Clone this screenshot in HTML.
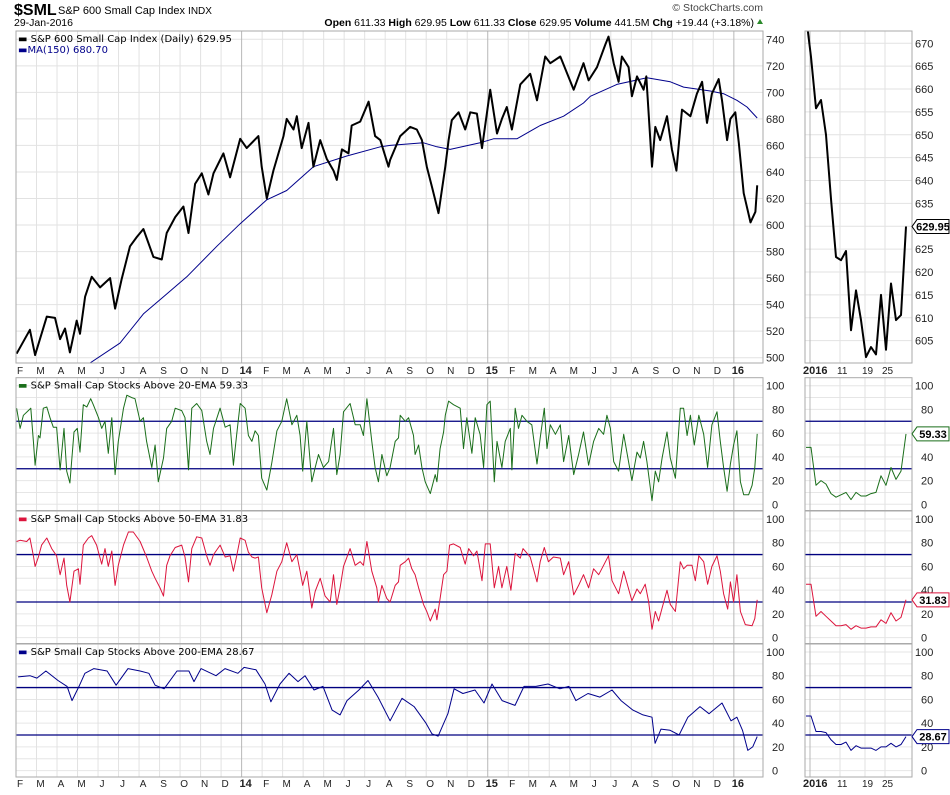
<!DOCTYPE html>
<html><head><meta charset="utf-8"><style>
html,body{margin:0;padding:0;background:#fff;}
svg{display:block;font-family:"Liberation Sans",sans-serif;}
</style></head><body>
<svg id="c" width="950" height="795" viewBox="0 0 950 795" xmlns="http://www.w3.org/2000/svg">
<text x="14" y="15" font-size="16" font-weight="bold">$SML</text>
<text x="58" y="14" font-size="11">S&amp;P 600 Small Cap Index <tspan font-size="10">INDX</tspan></text>
<text x="14" y="26" font-size="10.5">29-Jan-2016</text>
<text x="763" y="11" font-size="10.5" fill="#444" text-anchor="end">© StockCharts.com</text>
<text x="754" y="26" font-size="10.5" text-anchor="end"><tspan font-weight="bold">Open</tspan> 611.33 <tspan font-weight="bold">High</tspan> 629.95 <tspan font-weight="bold">Low</tspan> 611.33 <tspan font-weight="bold">Close</tspan> 629.95 <tspan font-weight="bold">Volume</tspan> 441.5M <tspan font-weight="bold">Chg</tspan> +19.44 (+3.18%)</text>
<polygon points="757,24 763,24 760,19" fill="#2a8a2a"/>
<g id="g"></g>
</svg>
<script>
const monthLabels=['F','M','A','M','J','J','A','S','O','N','D','14','F','M','A','M','J','J','A','S','O','N','D','15','F','M','A','M','J','J','A','S','O','N','D','16'];
const priceTicks=[500,520,540,560,580,600,620,640,660,680,700,720,740];
const janTicks=[605,610,615,620,625,630,635,640,645,650,655,660,665,670];
const pctTicks=[0,20,40,60,80,100];
const refLevels=[30,70];
const janLabels=[['2016',1,true],['11',7,false],['19',12,false],['25',16,false]];
const priceM=[0.03,0.68,0.93,1.5,1.9,2.15,2.39,2.63,2.96,3.12,3.37,3.69,4.1,4.59,4.83,5.15,5.56,5.89,6.21,6.7,7.11,7.35,7.76,8.16,8.41,8.73,9.06,9.38,9.63,9.95,10.11,10.44,10.93,11.25,11.82,11.98,12.23,12.55,13.04,13.2,13.53,13.69,13.93,14.26,14.5,14.83,15.15,15.48,15.64,15.89,16.21,16.37,16.78,17.19,17.51,17.76,18.16,18.24,18.73,19.22,19.54,19.79,20.03,20.28,20.6,20.93,21.09,21.25,21.58,21.9,22.15,22.47,22.72,23.12,23.45,23.69,23.93,24.18,24.59,25.07,25.4,25.8,26.05,26.54,27.19,27.67,27.92,28.33,28.73,28.89,29.14,29.38,29.54,29.87,30.03,30.28,30.6,30.73,31.01,31.17,31.41,31.74,31.98,32.2,32.47,32.88,33.2,33.45,33.69,33.93,34.26,34.42,34.67,34.83,35.07,35.24,35.48,35.81,36.05,36.14];
const priceV=[503,521,502,531,530,514,522,504,528,518,546,561,553,560,537,559,584,591,597,576,574,594,606,614,594,631,639,623,639,649,654,636,665,658,667,644,620,641,667,680,672,682,658,677,644,664,650,641,634,657,654,675,678,693,667,664,644,649,667,674,672,664,644,629,609,644,664,679,685,672,685,684,658,702,669,680,689,672,706,714,694,727,722,727,702,722,709,719,736,742,722,708,727,719,697,712,702,712,644,674,664,682,657,641,687,682,699,708,677,699,710,694,664,680,685,662,624,602,610,629.95];
const maM=[3.61,5.07,6.21,7.19,8.33,9.79,10.93,12.23,13.2,14.5,16.13,17.76,18.24,19.87,20.52,21.17,22.63,23.28,24.42,25.56,26.7,27.67,28.0,29.3,30.76,31.9,32.55,33.85,34.5,35.15,35.64,36.14];
const maV=[496,511,533,546,561,584,601,619,626,644,652,659,660,662,659,657,662,665,665,675,682,692,697,706,711,708,704,701,699,694,689,680.7];
const ema20M=[0.03,0.2,0.36,0.6,0.72,0.85,0.93,1.09,1.17,1.33,1.5,1.66,1.82,1.98,2.15,2.34,2.47,2.63,2.83,2.99,3.12,3.28,3.45,3.64,3.77,4.02,4.18,4.34,4.5,4.67,4.83,4.99,5.24,5.4,5.64,5.8,6.05,6.21,6.37,6.62,6.78,6.94,7.19,7.35,7.59,7.76,8.08,8.24,8.41,8.57,8.81,9.06,9.3,9.46,9.63,9.95,10.2,10.44,10.6,10.76,10.93,11.17,11.33,11.5,11.66,11.82,11.98,12.23,12.47,12.72,12.96,13.2,13.45,13.69,13.85,13.98,14.18,14.42,14.59,14.75,14.99,15.24,15.48,15.64,15.8,15.97,16.29,16.54,16.78,16.94,17.11,17.35,17.51,17.67,17.84,18.08,18.24,18.49,18.65,18.73,18.98,19.14,19.38,19.46,19.63,19.79,19.95,20.2,20.44,20.52,20.68,20.85,20.93,21.09,21.33,21.66,21.82,21.98,22.23,22.39,22.63,22.8,22.96,23.12,23.32,23.45,23.69,23.85,24.1,24.18,24.34,24.5,24.67,24.91,25.15,25.4,25.56,25.76,25.89,26.05,26.3,26.54,26.7,26.95,27.19,27.43,27.67,27.92,28.16,28.41,28.65,28.81,28.98,29.14,29.38,29.63,30.03,30.28,30.44,30.6,30.76,31.01,31.17,31.33,31.5,31.74,31.9,32.15,32.39,32.55,32.72,32.88,33.07,33.29,33.53,33.72,33.93,34.18,34.34,34.5,34.67,34.83,34.99,35.15,35.32,35.48,35.72,35.89,36.02,36.14];
const ema20V=[81,64,75,79,81,53,33,58,56,81,82,73,65,65,29,64,28,18,61,64,44,84,82,89,84,73,64,70,43,73,25,53,81,92,90,89,70,73,53,31,50,19,39,64,70,81,79,73,29,81,85,79,53,42,64,81,65,67,33,59,85,81,58,53,62,58,22,12,35,62,70,89,67,75,58,28,70,19,31,42,31,36,64,25,42,78,85,67,67,58,89,53,31,19,42,24,31,53,56,75,70,73,58,42,50,31,19,9,25,19,47,61,75,87,84,81,47,73,43,73,59,31,84,87,19,53,31,53,64,29,81,64,75,70,67,34,56,81,47,67,59,67,36,58,25,42,61,33,53,64,59,75,64,36,28,59,20,44,39,53,36,3,28,19,39,61,39,22,81,81,58,75,50,75,59,31,67,78,53,31,11,34,50,62,19,8,8,16,31,59.33];
const ema50M=[0.03,0.2,0.52,0.68,0.85,0.93,1.09,1.25,1.5,1.74,1.98,2.15,2.34,2.47,2.63,2.83,3.04,3.12,3.28,3.53,3.69,3.93,4.18,4.34,4.5,4.67,4.83,4.99,5.24,5.48,5.72,6.05,6.37,6.62,6.78,7.02,7.19,7.35,7.51,7.76,8.08,8.24,8.41,8.57,8.81,9.06,9.3,9.46,9.63,9.95,10.2,10.44,10.6,10.76,10.93,11.17,11.33,11.5,11.66,11.82,11.98,12.23,12.47,12.72,12.96,13.2,13.45,13.69,13.85,13.98,14.18,14.42,14.59,14.83,15.07,15.32,15.48,15.64,15.8,15.97,16.29,16.54,16.78,16.94,17.11,17.35,17.59,17.67,17.84,18.08,18.24,18.49,18.65,18.73,18.98,19.14,19.3,19.46,19.63,19.87,20.03,20.2,20.44,20.52,20.68,20.85,21.01,21.14,21.33,21.66,21.9,22.07,22.31,22.47,22.72,22.88,23.12,23.32,23.53,23.69,23.93,24.13,24.34,24.59,24.72,25.07,25.4,25.56,25.76,25.96,26.2,26.54,26.7,26.95,27.19,27.43,27.67,27.92,28.16,28.41,28.65,28.89,29.06,29.38,29.63,30.03,30.28,30.44,30.68,30.85,31.01,31.17,31.33,31.5,31.74,31.9,32.15,32.39,32.55,32.72,32.96,33.12,33.29,33.53,33.72,33.93,34.18,34.34,34.5,34.7,34.83,34.99,35.15,35.32,35.56,35.89,36.02,36.14];
const ema50V=[81,82,81,84,69,60,68,78,84,75,69,53,67,44,30,56,58,45,78,84,86,78,62,75,60,73,44,61,78,89,89,81,68,56,50,42,35,61,69,76,78,68,47,75,85,84,69,61,70,78,68,69,56,69,84,82,72,68,67,68,42,21,36,56,64,80,64,70,56,44,56,25,39,50,35,30,53,28,42,60,75,61,64,61,81,56,42,30,44,33,30,44,47,61,64,67,58,53,42,28,22,14,24,15,33,53,56,78,79,76,62,75,69,73,48,79,79,42,60,42,60,40,71,67,75,68,47,64,76,64,68,67,53,64,36,44,53,42,58,53,61,69,48,37,56,31,41,37,45,30,7,22,14,25,40,28,22,64,58,61,61,48,69,64,45,60,69,56,37,24,47,30,53,22,11,10,16,31.83];
const ema200M=[0.1,0.68,1.02,1.46,2.05,2.49,2.73,3.07,3.36,3.8,4.44,4.88,5.46,6.05,6.48,6.78,7.22,7.85,8.43,8.68,9.02,9.75,10.19,10.82,11.12,11.7,12.14,12.43,12.87,13.31,13.75,14.09,14.53,14.97,15.41,15.8,16.14,16.72,17.16,17.65,18.24,18.82,19.41,19.99,20.28,20.58,21.06,21.36,21.79,22.38,22.82,23.21,23.7,24.33,24.77,25.35,25.94,26.52,26.96,27.3,27.89,28.47,29.06,29.5,30.08,30.57,31.01,31.16,31.45,31.89,32.33,32.76,33.35,33.79,34.42,34.86,35.15,35.42,35.68,35.92,36.14];
const ema200V=[79,80,78,84,76,71,59,71,82,86,84,72,86,84,82,72,69,84,84,75,86,80,86,82,87,85,73,58,73,82,75,80,68,71,51,47,59,68,76,62,42,61,54,40,31,29,48,69,65,68,57,73,59,55,71,71,73,69,71,59,65,62,68,59,51,47,45,23,35,34,30,45,54,48,57,42,45,34,17,20,28.67];
const janPrice=[676,667,655.8,657.6,650,636,623.3,622.6,624.6,607.3,616,609.5,601.4,603.6,602,615,603,617.5,609.5,610.6,629.95];
const jan20=[48,48,16,20,17,9,6,8,10,4,10,7,7,9,10,24,16,31,21,28,59.33];
const jan50=[45,45,18,22,18,14,10,10,11,7,10,8,8,9,9,15,12,21,14,17,31.83];
const jan200=[46,46,33,33,32,26,22,22,24,17,21,19,19,19,17,20,20,23,20,22,28.67];

const NS='http://www.w3.org/2000/svg';
const G=document.getElementById('g');
function mk(tag,attrs,parent){const e=document.createElementNS(NS,tag);for(const k in attrs)e.setAttribute(k,attrs[k]);(parent||G).appendChild(e);return e;}
const L=16,R=763,RL=805,RR=912;
const xM=m=>L+m*20.51;
const yP=v=>39.3+(740-v)*1.3267;
const xJ=i=>806+i*5;
const yJ=v=>43.3+(670-v)*4.575;
const panels=[{top:377.7,bot:510.5,name:'ema20',col:'#1a6e1a',M:ema20M,V:ema20V,J:jan20,label:'S&P Small Cap Stocks Above 20-EMA 59.33',val:'59.33'},
{top:511,bot:643.5,name:'ema50',col:'#dc143c',M:ema50M,V:ema50V,J:jan50,label:'S&P Small Cap Stocks Above 50-EMA 31.83',val:'31.83'},
{top:644,bot:777,name:'ema200',col:'#00008b',M:ema200M,V:ema200V,J:jan200,label:'S&P Small Cap Stocks Above 200-EMA 28.67',val:'28.67'}];
function yI(p,v){return p.top+8+(100-v)*1.186;}

// clip paths
const defs=mk('defs',{});
const c1=mk('clipPath',{id:'cm'},defs);mk('rect',{x:L,y:31,width:R-L,height:332},c1);
const c2=mk('clipPath',{id:'cj'},defs);mk('rect',{x:RL,y:31,width:RR-RL,height:332},c2);

// month grid + labels
function vgrid(top,bot,withLabels,ly){
  monthLabels.forEach((lab,m)=>{
    const yr=/\d/.test(lab);
    const ln=mk('line',{x1:xM(m),x2:xM(m),y1:top,y2:bot,stroke:yr?'#b8b8b8':'#e2e2e2','stroke-width':1});
    
    
    if(withLabels){
      const t=mk('text',{x:xM(m)+4,y:ly,'font-size':yr?11:10,'font-weight':yr?'bold':'normal','text-anchor':'middle',fill:'#222'});
      t.textContent=lab;
      
      
    }
  });
}
function jgrid(top,bot,withLabels,ly){
  janLabels.forEach(j=>{
    const ln=mk('line',{x1:xJ(j[1])-1,x2:xJ(j[1])-1,y1:top,y2:bot,stroke:j[2]?'#b8b8b8':'#e2e2e2'});
    
    
    if(withLabels){
      const t=mk('text',{x:j[2]?xJ(j[1])-8:xJ(j[1])-4,y:ly,'font-size':j[2]?11:10,'font-weight':j[2]?'bold':'normal',fill:'#222'});
      t.textContent=j[0];
      
      
    }
  });
}
function tagBox(x,y,txt,col,name){
  const g=mk('g',{});
  
  
  mk('polygon',{points:`${x},${y} ${x+5},${y-7} ${x+37},${y-7} ${x+37},${y+7} ${x+5},${y+7}`,fill:'#fff',stroke:col,'stroke-width':1},g);
  const t=mk('text',{x:x+21,y:y+4,'font-size':11,'font-weight':'bold','text-anchor':'middle',fill:'#000'},g);
  t.textContent=txt;
}
function poly(xs,ys,col,w,clip,name){
  const p=mk('polyline',{points:xs.map((x,i)=>x.toFixed(1)+','+ys[i].toFixed(1)).join(' '),fill:'none',stroke:col,'stroke-width':w,'stroke-linejoin':'round'});
  if(clip)p.setAttribute('clip-path','url(#'+clip+')');
  
  
  return p;
}

// ===== main price panel =====
priceTicks.forEach(v=>{
  const ln=mk('line',{x1:L,x2:R,y1:yP(v),y2:yP(v),stroke:'#e2e2e2'});
  
  
  const t=mk('text',{x:766,y:yP(v)+4,'font-size':11,fill:'#222'});
  t.textContent=v;
  
  
});
vgrid(31,363,true,374);
poly(maM.map(xM),maV.map(yP),'#00008b',1,'cm','ma150-line');
poly(priceM.map(xM),priceV.map(yP),'#000',2,'cm','price-line');
const fr=mk('rect',{x:L,y:31,width:R-L,height:332,fill:'none',stroke:'#aaa'});


let lg=mk('text',{x:18,y:42,'font-size':10,'font-family':'DejaVu Sans, sans-serif',fill:'#000'});
lg.textContent='▬ S&P 600 Small Cap Index (Daily) 629.95';


lg=mk('text',{x:18,y:53,'font-size':10,'font-family':'DejaVu Sans, sans-serif',fill:'#00008b'});
lg.textContent='▬MA(150) 680.70';



// right price zoom panel
janTicks.forEach(v=>{
  const ln=mk('line',{x1:RL,x2:RR,y1:yJ(v),y2:yJ(v),stroke:'#e2e2e2'});
  
  
  const t=mk('text',{x:915,y:yJ(v)+4,'font-size':11,fill:'#222'});
  t.textContent=v;
  
  
});
jgrid(31,363,true,374);
poly(janPrice.map((v,i)=>xJ(i)),janPrice.map(yJ),'#000',2,'cj','jan-price-line');
const fr2=mk('rect',{x:RL,y:31,width:RR-RL,height:332,fill:'none',stroke:'#aaa'});


tagBox(RR,yJ(janPrice[janPrice.length-1]),'629.95','#000','last-price-tag');

// ===== indicator panels =====
panels.forEach((p,pi)=>{
  for(let v=0;v<=100;v+=10){
    [[L,R],[RL,RR]].forEach(r=>{
      const ln=mk('line',{x1:r[0],x2:r[1],y1:yI(p,v),y2:yI(p,v),stroke:'#e6e6e6'});
      
      
    });
  }
  pctTicks.forEach(v=>{
    [766,915].forEach(x=>{
      const t=mk('text',{x:v===100?x:x+6,y:yI(p,v)+4,'font-size':11,fill:'#222'});
      t.textContent=v;
      
      
    });
  });
  vgrid(p.top,p.bot,pi===2,787);
  jgrid(p.top,p.bot,pi===2,787);
  refLevels.forEach(v=>{
    [[L,R],[RL,RR]].forEach(r=>{
      const ln=mk('line',{x1:r[0],x2:r[1],y1:yI(p,v),y2:yI(p,v),stroke:'#000080','stroke-width':1.3});
      
      
    });
  });
  poly(p.M.map(m=>xM(Math.min(m,36.14))),p.V.map(v=>yI(p,v)),p.col,1,null,p.name+'-line');
  poly(p.J.map((v,i)=>xJ(i)),p.J.map(v=>yI(p,v)),p.col,1,null,p.name+'-jan-line');
  [[L,R],[RL,RR]].forEach(r=>{
    const f=mk('rect',{x:r[0],y:p.top,width:r[1]-r[0],height:p.bot-p.top,fill:'none',stroke:'#aaa'});
    
    
  });
  const t=mk('text',{x:18,y:p.top+11,'font-size':10,'font-family':'DejaVu Sans, sans-serif',fill:'#000'});
  t.innerHTML='<tspan fill="'+p.col+'">▬</tspan> '+p.label.replace('&','&amp;');
  
  
  tagBox(RR,yI(p,p.J[p.J.length-1]),p.val,p.col,p.name+'-value-tag');
});
</script>
</body></html>
